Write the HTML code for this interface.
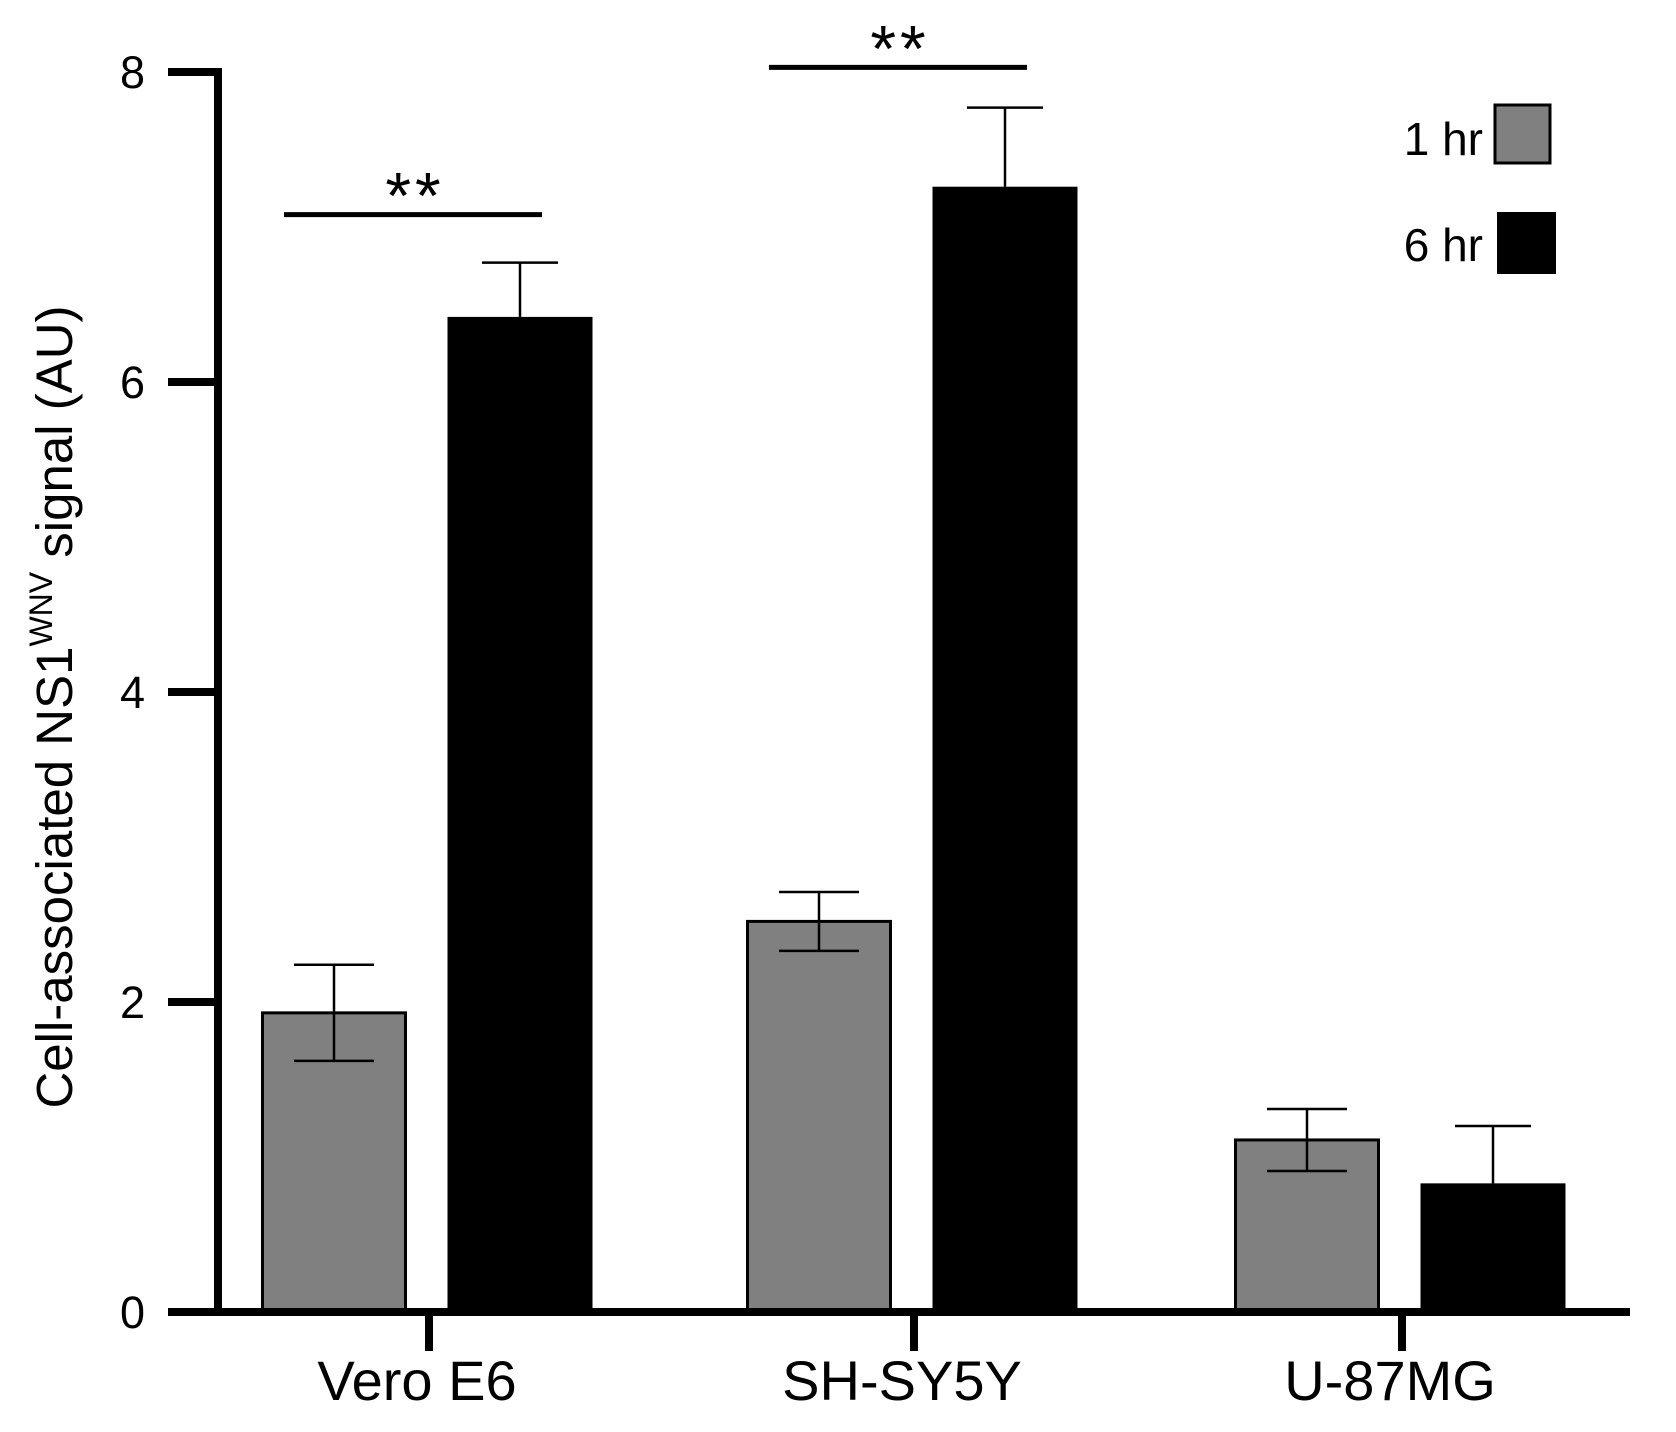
<!DOCTYPE html>
<html><head><meta charset="utf-8"><style>
html,body{margin:0;padding:0;background:#fff;}
svg{display:block;font-family:"Liberation Sans",Arial,sans-serif;}
</style></head><body>
<svg id="chart" width="1676" height="1432" viewBox="0 0 1676 1432">
<rect width="1676" height="1432" fill="#fff"/>
<g id="marks"></g>
<text transform="translate(72,707) rotate(-90)" text-anchor="middle" font-size="51">Cell-associated NS1<tspan dy="-20" font-size="32">WNV</tspan><tspan dy="20"> signal (AU)</tspan></text>
</svg>
<script>
const categories = ["Vero E6", "SH-SY5Y", "U-87MG"];
const series1hr = [1.93, 2.52, 1.11];
const err1hr = [0.31, 0.19, 0.20];
const series6hr = [6.42, 7.26, 0.83];
const err6hr = [0.35, 0.51, 0.37];
const yTicks = [0, 2, 4, 6, 8];
const sigPairs = [0, 1];
const sigLevel = [7.08, 8.03];

const NS = "http://www.w3.org/2000/svg";
const g = document.getElementById("marks");
const y0 = 1312, yTop = 72, yMax = 8;
const axX = 218;
function yScale(v){ return y0 - (y0 - yTop) * v / yMax; }
const catX = [429, 914, 1402];
function xCenter(i){ return catX[i]; }
const barW = 143;
function el(tag, attrs){ const e = document.createElementNS(NS, tag); for (const k in attrs) e.setAttribute(k, attrs[k]); g.appendChild(e); return e; }

for (let i = 0; i < categories.length; i++) {
  const c = xCenter(i);
  const m1 = c - 95, m6 = c + 91;
  const x1 = m1 - barW/2, x2 = m6 - 145/2;
  const t1 = yScale(series1hr[i]);
  const b1 = el("rect", {x: x1, y: t1, width: barW, height: y0 - t1, fill: "#808080", stroke: "#000", "stroke-width": 3});
  
  
  const t6 = yScale(series6hr[i]);
  const b6 = el("rect", {x: x2, y: t6, width: 145, height: y0 - t6, fill: "#000"});
  
  
  const e1 = el("path", {d: `M${m1},${yScale(series1hr[i]+err1hr[i])}V${yScale(series1hr[i]-err1hr[i])}M${m1-40},${yScale(series1hr[i]+err1hr[i])}h80M${m1-40},${yScale(series1hr[i]-err1hr[i])}h80`, stroke: "#000", "stroke-width": 2.5, fill: "none"});
  
  
  const e6 = el("path", {d: `M${m6},${yScale(series6hr[i]+err6hr[i])}V${t6}M${m6-38},${yScale(series6hr[i]+err6hr[i])}h76`, stroke: "#000", "stroke-width": 2.5, fill: "none"});
  
  
  const tk = el("line", {x1: c, y1: y0, x2: c, y2: 1351, stroke: "#000", "stroke-width": 8});
  
  
  const lb = el("text", {x: c - 12, y: 1400, "text-anchor": "middle", "font-size": 56});
  lb.textContent = categories[i];
  
  
}
const ya = el("line", {x1: axX, y1: yTop - 4, x2: axX, y2: y0 + 4, stroke: "#000", "stroke-width": 8});


const xa = el("line", {x1: 168, y1: y0, x2: 1630, y2: y0, stroke: "#000", "stroke-width": 8});


for (const v of yTicks) {
  const t = el("line", {x1: 168, y1: yScale(v), x2: axX, y2: yScale(v), stroke: "#000", "stroke-width": 8});
  
  
  const l = el("text", {x: 145, y: yScale(v) + 16, "text-anchor": "end", "font-size": 45});
  l.textContent = v;
  
  
}
for (let k = 0; k < sigPairs.length; k++) {
  const i = sigPairs[k];
  const c = xCenter(i);
  const yy = yScale(sigLevel[k]);
  const s = el("line", {x1: c - 145, y1: yy, x2: c + 113, y2: yy, stroke: "#000", "stroke-width": 5});
  
  
  const st = el("text", {x: c - 14, y: yy + 4, "text-anchor": "middle", "font-size": 66, "letter-spacing": "4"});
  st.textContent = "**";
  
  
}
const lg1 = el("rect", {x: 1495, y: 105, width: 55, height: 58, fill: "#808080", stroke: "#000", "stroke-width": 3});


const lt1 = el("text", {x: 1483, y: 155, "text-anchor": "end", "font-size": 46});
lt1.textContent = "1 hr";


const lg6 = el("rect", {x: 1497, y: 212, width: 59, height: 62, fill: "#000"});


const lt6 = el("text", {x: 1483, y: 261, "text-anchor": "end", "font-size": 46});
lt6.textContent = "6 hr";


</script>
</body></html>
